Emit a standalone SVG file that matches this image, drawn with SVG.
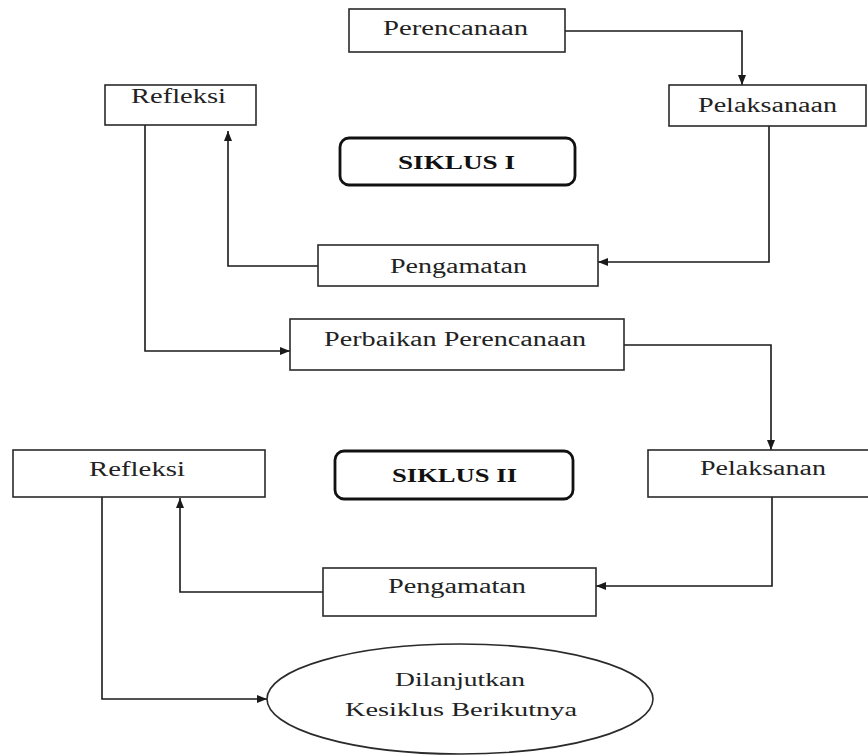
<svg xmlns="http://www.w3.org/2000/svg" width="868" height="756" viewBox="0 0 868 756">
<defs>
<marker id="ah" viewBox="0 0 10 8" refX="10" refY="4" markerWidth="10" markerHeight="8" markerUnits="userSpaceOnUse" orient="auto">
<path d="M0,0 L10,4 L0,8 Z" fill="#1a1a1a"/>
</marker>
<style>
.box{fill:#fff;stroke:#2a2a2a;stroke-width:1.6}
.cyc{fill:#fff;stroke:#111;stroke-width:2.8}
.t{font-family:"Liberation Serif","Times New Roman",serif;font-size:20px;fill:#222}
.tb{font-family:"Liberation Serif","Times New Roman",serif;font-size:19px;font-weight:bold;fill:#111}
.te{font-family:"Liberation Serif","Times New Roman",serif;font-size:18px;fill:#222}
.c{fill:none;stroke:#1a1a1a;stroke-width:1.6;marker-end:url(#ah)}
.cn{fill:none;stroke:#1a1a1a;stroke-width:1.6}
</style>
</defs>
<rect width="868" height="756" fill="#fff"/>
<g id="connectors">
<path class="c" d="M565,31 H742 V85"/>
<path class="c" d="M769,126 V262 H598"/>
<path class="c" d="M318,266 H228 V131"/>
<path class="c" d="M145,125 V351 H290"/>
<path class="c" d="M624,345 H771 V450"/>
<path class="c" d="M772,497 V586 H596"/>
<path class="c" d="M323,592 H180 V498"/>
<path class="c" d="M102,497 V699 H267"/>
</g>
<g id="perencanaan">
<rect class="box" x="349" y="9" width="216" height="43"/>
<text class="t" x="383" y="35" textLength="145" lengthAdjust="spacingAndGlyphs">Perencanaan</text>
</g>
<g id="pelaksanaan">
<rect class="box" x="669" y="85" width="197" height="41"/>
<text class="t" x="698" y="112" textLength="139" lengthAdjust="spacingAndGlyphs">Pelaksanaan</text>
</g>
<g id="refleksi1">
<rect class="box" x="105" y="85" width="151" height="40"/>
<text class="t" x="131" y="103" textLength="95" lengthAdjust="spacingAndGlyphs">Refleksi</text>
</g>
<g id="siklus1">
<rect class="cyc" x="340" y="138" width="235" height="47" rx="9"/>
<text class="tb" x="398" y="169" textLength="117" lengthAdjust="spacingAndGlyphs">SIKLUS I</text>
</g>
<g id="pengamatan1">
<rect class="box" x="318" y="245" width="280" height="41"/>
<text class="t" x="390" y="273" textLength="137" lengthAdjust="spacingAndGlyphs">Pengamatan</text>
</g>
<g id="perbaikan">
<rect class="box" x="290" y="319" width="334" height="51"/>
<text class="t" x="324" y="346" textLength="262" lengthAdjust="spacingAndGlyphs">Perbaikan Perencanaan</text>
</g>
<g id="refleksi2">
<rect class="box" x="13" y="450" width="252" height="47"/>
<text class="t" x="89" y="476" textLength="96" lengthAdjust="spacingAndGlyphs">Refleksi</text>
</g>
<g id="siklus2">
<rect class="cyc" x="335" y="451" width="238" height="48" rx="9"/>
<text class="tb" x="392" y="482" textLength="125" lengthAdjust="spacingAndGlyphs">SIKLUS II</text>
</g>
<g id="pelaksanan">
<rect class="box" x="648" y="450" width="240" height="47"/>
<text class="t" x="700" y="475" textLength="126" lengthAdjust="spacingAndGlyphs">Pelaksanan</text>
</g>
<g id="pengamatan2">
<rect class="box" x="323" y="568" width="273" height="48"/>
<text class="t" x="388" y="593" textLength="138" lengthAdjust="spacingAndGlyphs">Pengamatan</text>
</g>
<g id="lanjut">
<ellipse class="box" cx="460" cy="699" rx="193" ry="55"/>
<text class="te" x="395" y="686" textLength="130" lengthAdjust="spacingAndGlyphs">Dilanjutkan</text>
<text class="te" x="345" y="716" textLength="232" lengthAdjust="spacingAndGlyphs">Kesiklus Berikutnya</text>
</g>
</svg>
